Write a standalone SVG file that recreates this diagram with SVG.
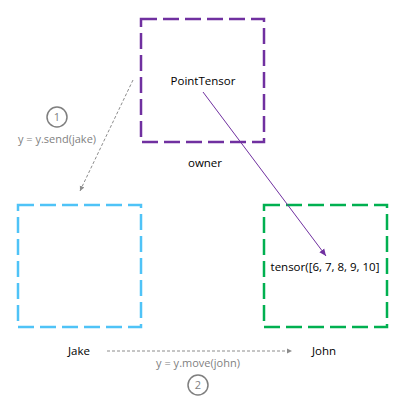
<svg xmlns="http://www.w3.org/2000/svg" width="408" height="408" viewBox="0 0 408 408">
<style>
.box{fill:none;stroke-width:2.5;stroke-dasharray:16 6}
.t{font-family:"Open Sans","Liberation Sans",sans-serif;font-size:11.5px;fill:#000;text-anchor:middle}
.g{font-family:"Open Sans","Liberation Sans",sans-serif;font-size:11px;fill:#7f7f7f;text-anchor:middle}
.dash{stroke:#8c8c8c;stroke-width:1;stroke-dasharray:3 2;fill:none}
.circ{fill:none;stroke:#7f7f7f;stroke-width:1.5}
</style>
<defs>
<marker id="ag" markerWidth="6" markerHeight="6" refX="5" refY="3" orient="auto" markerUnits="userSpaceOnUse"><path d="M0,0.5 L5,3 L0,5.5 z" fill="#8c8c8c"/></marker>
<marker id="ap" markerWidth="8" markerHeight="8" refX="7" refY="4" orient="auto" markerUnits="userSpaceOnUse"><path d="M0,1 L7,4 L0,7 z" fill="#7030a0"/></marker>
</defs>
<rect width="408" height="408" fill="#fff"/>
<g id="owner">
<rect class="box" x="141" y="19" width="123" height="123" stroke="#7030a0"/>
<text class="t" x="203" y="85">PointTensor</text>
<text class="t" x="205" y="167">owner</text>
</g>
<g id="jake">
<rect class="box" x="18" y="205" width="123" height="122" stroke="#4fc3f7"/>
<text class="t" x="79" y="355">Jake</text>
</g>
<g id="john">
<rect class="box" x="264" y="205" width="123" height="122" stroke="#00b050"/>
<text class="t" x="325" y="271">tensor([6, 7, 8, 9, 10]</text>
<text class="t" x="324" y="355">John</text>
</g>
<g id="connectors">
<line class="dash" x1="133" y1="80" x2="80" y2="191" marker-end="url(#ag)"/>
<line class="dash" x1="107" y1="351" x2="292" y2="351" marker-end="url(#ag)"/>
<line x1="203" y1="92" x2="326" y2="256" stroke="#7030a0" stroke-width="1" marker-end="url(#ap)"/>
</g>
<g id="step1">
<circle class="circ" cx="57" cy="117" r="10"/>
<text class="g" x="57" y="121">1</text>
<text class="g" x="57" y="143">y = y.send(jake)</text>
</g>
<g id="step2">
<circle class="circ" cx="198" cy="385" r="10"/>
<text class="g" x="198" y="389">2</text>
<text class="g" x="198" y="367">y = y.move(john)</text>
</g>
</svg>
